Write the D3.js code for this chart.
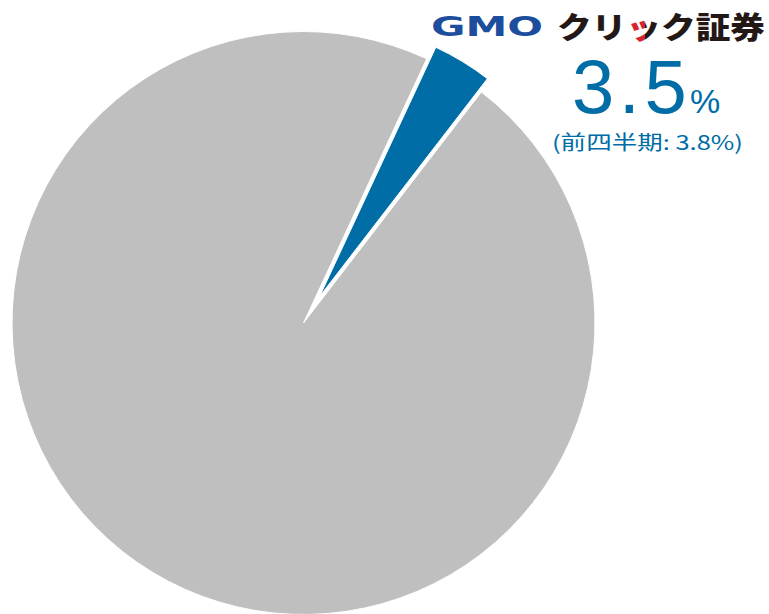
<!DOCTYPE html>
<html>
<head>
<meta charset="utf-8">
<script src="https://cdn.jsdelivr.net/npm/d3@7"></script>
<style>
  body { margin: 0; background: #fff; }
  svg { display: block; }
</style>
</head>
<body>
<svg id="chart" width="769" height="614"></svg>
<script>
// share data (%)
var labels = ["GMOクリック証券", "その他"];
var shares = [3.5, 96.5];
var prevShare = 3.8;
var colors = ["#006da6", "#bfbfbf"];

var svg = d3.select("#chart");
var cx = 303.5, cy = 323;
var startDeg = 25;

var pie = d3.pie().sort(null).value(d => d)
    .startAngle(startDeg * Math.PI / 180)
    .endAngle((startDeg + 360) * Math.PI / 180);
var arcs = pie(shares);

var arcMain = d3.arc().innerRadius(0).outerRadius(291.5);
var arcExploded = d3.arc().innerRadius(0).outerRadius(275);
var explode = 31;

var g = svg.append("g").attr("transform", "translate(" + cx + "," + cy + ")");

g.selectAll("path.slice")
    .data(arcs)
    .enter().append("path")
    .attr("class", "slice")
    .attr("d", (d, i) => i === 0 ? arcExploded(d) : arcMain(d))
    .attr("transform", (d, i) => {
        if (i !== 0) return null;
        var mid = (d.startAngle + d.endAngle) / 2;
        return "translate(" + (Math.sin(mid) * explode) + "," + (-Math.cos(mid) * explode) + ")";
    })
    .style("fill", (d, i) => colors[i])
    .style("stroke", "#fff")
    .style("stroke-width", 1)
    .style("stroke-linejoin", "round");

// logo: the small "ッ" ticks are red, done with a gradient on one text
var grad = svg.append("defs").append("linearGradient")
    .attr("id", "kanaFill")
    .attr("gradientUnits", "userSpaceOnUse")
    .attr("x1", 557).attr("x2", 766).attr("y1", 0).attr("y2", 0);
var gs = d3.scaleLinear().domain([557, 766]).range([0, 1]);
[[557, "#231815"], [625, "#231815"], [625, "#d7232e"], [645, "#d7232e"], [645, "#231815"], [766, "#231815"]]
    .forEach(s => grad.append("stop").attr("offset", gs(s[0])).attr("stop-color", s[1]));

svg.append("text")
    .attr("x", 431).attr("y", 36)
    .attr("textLength", 112).attr("lengthAdjust", "spacingAndGlyphs")
    .style("font-family", "'DejaVu Sans', sans-serif")
    .style("font-weight", "bold")
    .style("font-size", "26px")
    .style("fill", "#1d4e9e")
    .text("GMO");

svg.append("text")
    .attr("x", 557).attr("y", 38)
    .attr("textLength", 208).attr("lengthAdjust", "spacingAndGlyphs")
    .style("font-family", "'Noto Sans CJK JP', sans-serif")
    .style("font-weight", "900")
    .style("font-size", "30px")
    .style("fill", "url(#kanaFill)")
    .text("クリック証券");

// value labels
svg.append("text")
    .attr("x", 572).attr("y", 113)
    .style("font-family", "'Liberation Sans', Arial, sans-serif")
    .style("font-size", "76px")
    .style("letter-spacing", "4.5px")
    .style("fill", colors[0])
    .text(shares[0].toFixed(1));

svg.append("text")
    .attr("x", 690).attr("y", 113)
    .style("font-family", "'Liberation Sans', Arial, sans-serif")
    .style("font-size", "34px")
    .style("fill", colors[0])
    .text("%");

svg.append("text")
    .attr("x", 552).attr("y", 150)
    .attr("textLength", 191).attr("lengthAdjust", "spacingAndGlyphs")
    .style("font-family", "'Noto Sans CJK JP', sans-serif")
    .style("font-size", "20px")
    .style("fill", colors[0])
    .text("(前四半期: " + prevShare.toFixed(1) + "%)");
</script>
</body>
</html>
